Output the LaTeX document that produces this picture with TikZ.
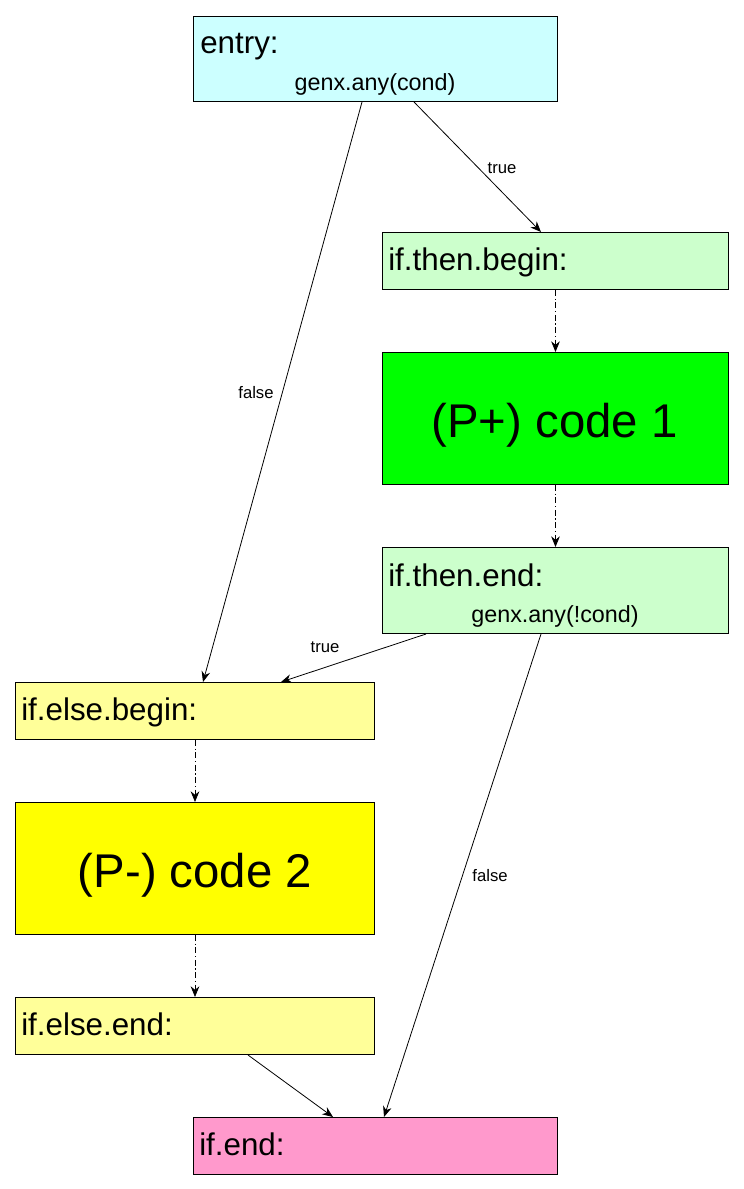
\documentclass[tikz,border=0pt]{standalone}
\usepackage{fontspec}
\setmainfont{Liberation Sans}
\usetikzlibrary{calc,arrows.meta}
\definecolor{cEntry}{HTML}{CCFFFF}
\definecolor{cThen}{HTML}{CCFFCC}
\definecolor{cCodeA}{HTML}{00FF00}
\definecolor{cElse}{HTML}{FFFF99}
\definecolor{cCodeB}{HTML}{FFFF00}
\definecolor{cEnd}{HTML}{FF99CC}
\tikzset{
  blk/.style={draw=black, line width=0.75pt, inner sep=0pt, anchor=north west},
  hdr/.style={anchor=base west, inner sep=0pt, font=\fontsize{23.5}{28}\selectfont},
  sub/.style={anchor=base, inner sep=0pt, font=\fontsize{17.5}{21}\selectfont},
  big/.style={inner sep=0pt, font=\fontsize{35.5}{42}\selectfont},
  lbl/.style={inner sep=0pt, font=\fontsize{12.5}{15}\selectfont},
  conn/.style={line width=0.6pt, -{Stealth[length=8pt,width=6.5pt]}},
  dconn/.style={conn, dash pattern=on 4.5pt off 2pt on 0.8pt off 2pt},
}
\begin{document}
\begin{tikzpicture}[x=0.75pt,y=-0.75pt]
\useasboundingbox (0,0) rectangle (743,1189);
% boxes
\node[blk, fill=cEntry, minimum width=273pt, minimum height=63.75pt] (entry) at (193,16) {};
\node[blk, fill=cThen, minimum width=259.5pt, minimum height=42.75pt] (tb) at (382,232) {};
\node[blk, fill=cCodeA, minimum width=259.5pt, minimum height=99pt] (c1) at (382,352) {};
\node[blk, fill=cThen, minimum width=259.5pt, minimum height=64.5pt] (te) at (382,547) {};
\node[blk, fill=cElse, minimum width=269.25pt, minimum height=42.75pt] (eb) at (15,682) {};
\node[blk, fill=cCodeB, minimum width=269.25pt, minimum height=99pt] (c2) at (15,802) {};
\node[blk, fill=cElse, minimum width=269.25pt, minimum height=42.75pt] (ee) at (15,997) {};
\node[blk, fill=cEnd, minimum width=273pt, minimum height=42.75pt] (fin) at (193,1117) {};
% texts
\node[hdr] (entryT) at (200,53) {entry:};
\node[sub] (entryS) at (375,90) {genx.any(cond)};
\node[hdr] (tbT) at (388,270) {if.then.begin:};
\node[big] (c1T) at ($(c1.center)+(-1,7)$) {(P+) code 1};
\node[hdr] (teT) at (388,586) {if.then.end:};
\node[sub] (teS) at (555,622) {genx.any(!cond)};
\node[hdr] (ebT) at (21,720) {if.else.begin:};
\node[big] (c2T) at ($(c2.center)+(0,7)$) {(P-) code 2};
\node[hdr] (eeT) at (21,1035) {if.else.end:};
\node[hdr] (finT) at (199,1155) {if.end:};
% connectors
\draw[conn] ($(entry.south west)+(221,0)$) -- ($(tb.north west)+(159,0)$);
\draw[conn] ($(entry.south west)+(169,0)$) -- ($(eb.north west)+(188,0)$);
\draw[dconn] (tb.south) -- (c1.north);
\draw[dconn] (c1.south) -- (te.north);
\draw[conn] ($(te.south west)+(44,0)$) -- ($(eb.north west)+(266,0)$);
\draw[conn] ($(te.south west)+(159,0)$) -- ($(fin.north west)+(191,0)$);
\draw[dconn] (eb.south) -- (c2.north);
\draw[dconn] (c2.south) -- (ee.north);
\draw[conn] ($(ee.south west)+(233,0)$) -- ($(fin.north west)+(140,0)$);
% labels
\node[lbl] (l1) at (502,168) {true};
\node[lbl] (l2) at (256,393) {false};
\node[lbl] (l3) at (325,647) {true};
\node[lbl] (l4) at (490,876) {false};
\end{tikzpicture}
\end{document}
